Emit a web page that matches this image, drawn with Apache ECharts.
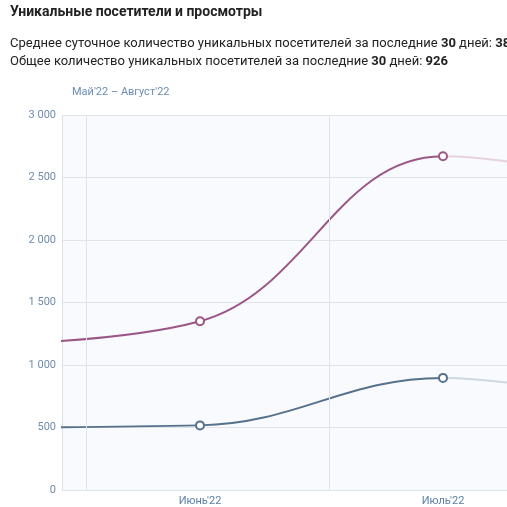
<!DOCTYPE html>
<html>
<head>
<meta charset="utf-8">
<script src="https://cdn.jsdelivr.net/npm/echarts@6/dist/echarts.min.js"></script>
<style>
html,body{margin:0;padding:0;background:#fff;}
#chart{width:507px;height:507px;}
</style>
</head>
<body>
<div id="chart"></div>
<script>
// month positions (0 = Май'22, 1 = Июнь'22, 2 = Июль'22, 3 = Август'22)
var monthNames = ["Май'22", "Июнь'22", "Июль'22", "Август'22"];
var monthPos = [0, 1, 2, 3];
var views = [1160, 1350, 2670, 2320];      // просмотры (pink)
var visitors = [500, 517, 897, 545];       // уникальные посетители (blue)
var labelMonths = [1, 2];                  // labelled ticks
var monthBoundaries = [0.527, 1.531];      // vertical grid lines
var completeUntil = 2;                     // data after this month is faded

var viewsColor = '#9a5686', viewsFade = '#e6d3df';
var visColor = '#56718c', visFade = '#cdd8e0';

function pairs(xs, ys){ return xs.map(function(x,i){ return [x, ys[i]]; }); }
function fmt(v){ return String(v).replace(/\B(?=(\d{3})+(?!\d))/g, ' '); }
// split point of the line colour, as a fraction of the line's x extent
var splitFrac = (completeUntil - monthPos[0]) / (monthPos[monthPos.length-1] - monthPos[0]);
function lineGrad(c1, c2){
  return new echarts.graphic.LinearGradient(0, 0, 1, 0, [
    {offset: 0, color: c1}, {offset: splitFrac, color: c1},
    {offset: splitFrac + 0.0001, color: c2}, {offset: 1, color: c2}]);
}

var chart = echarts.init(document.getElementById('chart'), null, {renderer:'canvas'});
var font = 'Roboto, "Open Sans", Arial, sans-serif';
chart.setOption({
  animation: false,
  textStyle: {fontFamily: font},
  title: [
    {text: 'Уникальные посетители и просмотры', left: 10, top: 5, padding: 0,
     textStyle: {fontSize: 14, fontWeight: 'bold', color: '#222', fontFamily: font}},
    {text: 'Среднее суточное количество уникальных посетителей за последние {b|30} дней: {b|38}',
     left: 10, top: 37, padding: 0,
     textStyle: {fontSize: 13, fontWeight: 'normal', color: '#222', fontFamily: font,
       rich: {b: {fontSize: 13, fontWeight: 'bold', color: '#222', fontFamily: font}}}},
    {text: 'Общее количество уникальных посетителей за последние {b|30} дней: {b|926}',
     left: 10, top: 55, padding: 0,
     textStyle: {fontSize: 13, fontWeight: 'normal', color: '#222', fontFamily: font,
       rich: {b: {fontSize: 13, fontWeight: 'bold', color: '#222', fontFamily: font}}}},
    {text: monthNames[0] + ' – ' + monthNames[3], left: 72, top: 87, padding: 0,
     textStyle: {fontSize: 11, fontWeight: 'normal', color: '#6a8db2', fontFamily: font}}
  ],
  grid: {left: 62, right: 0, top: 115, bottom: 17, show: true,
         backgroundColor: '#f9fafd', borderWidth: 0},
  xAxis: {
    type: 'value', min: 0.4321, max: 2.2634,
    axisLine: {show: false}, axisTick: {show: false},
    splitLine: {show: false},
    axisLabel: {customValues: labelMonths, color: '#5d81a8', fontSize: 11, margin: 6,
      formatter: function(v){ return monthNames[Math.round(v)]; }}
  },
  yAxis: {
    type: 'value', min: 0, max: 3000, interval: 500,
    axisLine: {show: true, lineStyle: {color: '#dde2e8'}},
    axisTick: {show: false},
    splitLine: {lineStyle: {color: '#dfe3ea', width: 1}},
    axisLabel: {color: '#6f8cab', fontSize: 11, margin: 6, formatter: function(v){ return fmt(v); }}
  },
  series: [
    {type: 'line', name: 'Просмотры', data: pairs(monthPos, views), smooth: 0.4,
     symbol: 'emptyCircle', symbolSize: 8, showAllSymbol: true,
     lineStyle: {width: 2, color: lineGrad(viewsColor, viewsFade)},
     itemStyle: {borderWidth: 2, color: viewsColor},
     z: 3,
     markLine: {silent: true, symbol: 'none', label: {show: false},
       lineStyle: {color: '#dfe3ea', width: 1, type: 'solid'},
       data: monthBoundaries.map(function(b){ return {xAxis: b}; })}},
    {type: 'line', name: 'Уникальные посетители', data: pairs(monthPos, visitors), smooth: 0.4,
     symbol: 'emptyCircle', symbolSize: 8, showAllSymbol: true,
     lineStyle: {width: 2, color: lineGrad(visColor, visFade)},
     itemStyle: {borderWidth: 2, color: visColor},
     z: 3}
  ]
});
</script>
</body>
</html>
